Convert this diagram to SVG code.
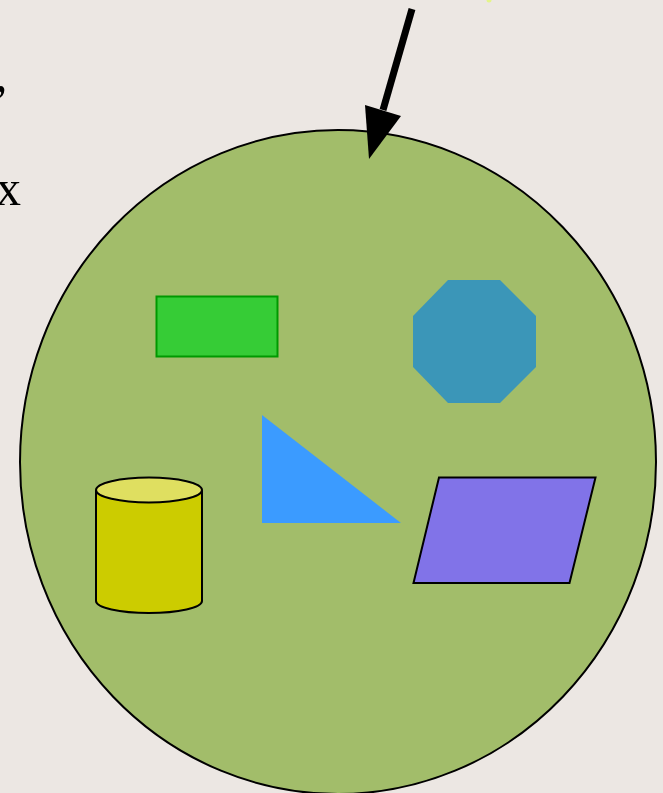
<svg xmlns="http://www.w3.org/2000/svg" width="663" height="793" viewBox="0 0 663 793">
<style>
.t{font-family:"Liberation Serif","Times New Roman",serif;font-size:50px;fill:#000}
.k{stroke:#000;stroke-width:2}
</style>
<rect width="663" height="793" fill="#ece7e3"/>
<circle cx="489" cy="0" r="2.5" fill="#e4f58a"/>
<text class="t" x="-5" y="91">,</text>
<text class="t" x="-4" y="205">x</text>
<g id="container">
<ellipse cx="338" cy="462" rx="318" ry="332" fill="#a2bd6a" stroke="#000" stroke-width="2"/>
</g>
<g id="rect">
<rect x="156.5" y="296.5" width="121" height="60" fill="#36cc36" stroke="#009900" stroke-width="2"/>
</g>
<g id="octagon">
<polygon points="448,280 500,280 536,316 536,367 500,403 448,403 413,367 413,316" fill="#3b96b8"/>
</g>
<g id="triangle">
<polygon points="262,415 262,523 401,523" fill="#3b9bff"/>
</g>
<g id="parallelogram">
<polygon points="439,477.5 595.5,477.5 569.5,583 413.5,583" fill="#8173e8" class="k"/>
</g>
<g id="cylinder">
<path d="M96,490 L96,601 A53,12 0 0 0 202,601 L202,490" fill="#cccc00" class="k"/>
<ellipse cx="149" cy="490" rx="53" ry="12.5" fill="#dfdf60" class="k"/>
</g>
<g id="connectors">
<line x1="412" y1="9" x2="383" y2="110" stroke="#000" stroke-width="7"/>
<polygon points="365,105 401,116 369,159" fill="#000"/>
</g>
</svg>
